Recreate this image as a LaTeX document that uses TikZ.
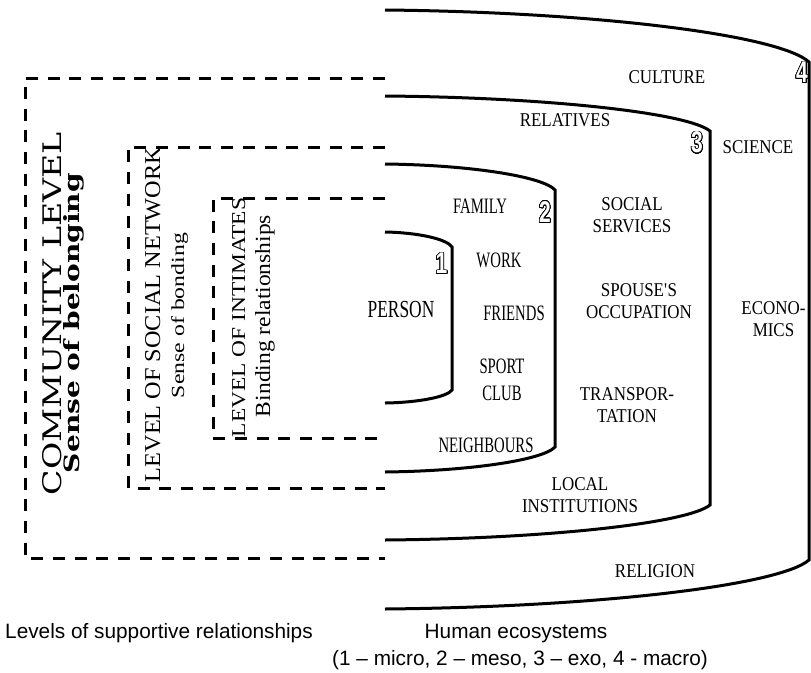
\documentclass[tikz,border=0pt]{standalone}
\usepackage{fontspec}
\usepackage[copies]{contour}
\setmainfont{Liberation Serif}
\newfontfamily\ringfont[FakeStretch=0.87]{Liberation Serif}
\newfontfamily\narrowfont[FakeStretch=0.67]{Liberation Serif}
\newfontfamily\personfont[FakeStretch=0.71]{Liberation Serif}
\newfontfamily\capsans{Liberation Sans}
\newfontfamily\digitfont[FakeStretch=0.7]{Liberation Sans}
\newfontfamily\wideserif{DejaVu Serif}
\contourlength{0.7pt}
\contournumber{32}
% hollow ring number
\newcommand{\ringdigit}[1]{{\digitfont\bfseries\fontsize{30}{30}\selectfont\color{white}\contour{black}{#1}}}
\begin{document}
\begin{tikzpicture}[x=1pt, y=-1pt,
  dashedframe/.style={line width=3pt, dash pattern=on 12pt off 9.7pt},
  ring/.style={line width=3pt},
  ringlabel/.style={font=\ringfont\fontsize{19.5}{22}\selectfont, align=center, inner sep=0pt},
  innerlabel/.style={font=\narrowfont\fontsize{22}{27}\selectfont, align=center, inner sep=0pt},
  levellabel/.style={rotate=90, anchor=base, inner sep=0pt},
  digit/.style={inner sep=0pt},
  caption/.style={font=\capsans\fontsize{20.8}{26}\selectfont, inner sep=0pt}]
\useasboundingbox (0,0) rectangle (811,672);

% levels of supportive relationships (dashed frames, open to the right)
\draw[dashedframe] (385,78) -- (25,78) -- (25,558) -- (385,558);
\draw[dashedframe] (385,147) -- (128,147) -- (128,488) -- (385,488);
\draw[dashedframe] (385,198) -- (213,198) -- (213,438) -- (385,438);

% human ecosystems (solid rings, open to the left)
\draw[ring] (385,10) .. controls (597,12.1) and (779.3,35) .. (809,62)
  -- (809,560) .. controls (779.3,585.5) and (597,607) .. (385,609);
\draw[ring] (385,96) .. controls (547.5,97.4) and (687.3,112.8) .. (710,131)
  -- (710,505) .. controls (687.3,523.2) and (547.5,538.6) .. (385,540);
\draw[ring] (385,164) .. controls (470,165) and (543.1,176.5) .. (555,190)
  -- (555,447) .. controls (543.1,460) and (470,471) .. (385,472);
\draw[ring] (385,232) .. controls (418.5,232.6) and (447.3,239.2) .. (452,247)
  -- (452,390) .. controls (447.3,396.8) and (418.5,402.5) .. (385,403);

% rotated level titles
\node[levellabel] (community) at (61,313.5)
  {\wideserif\resizebox{363pt}{19pt}{COMMUNITY LEVEL}};
\node[levellabel] (belonging) at (79,323)
  {\wideserif\bfseries\resizebox{300pt}{16pt}{Sense of belonging}};
\node[levellabel] (network) at (160,314.5)
  {\resizebox{335pt}{15pt}{LEVEL OF SOCIAL NETWORK}};
\node[levellabel] (bonding) at (184,315.5)
  {\resizebox{165pt}{13pt}{Sense of bonding}};
\node[levellabel] (intimates) at (245,317.5)
  {\resizebox{239pt}{13pt}{LEVEL OF INTIMATES}};
\node[levellabel] (binding) at (270,316)
  {\resizebox{202pt}{15pt}{Binding relationships}};

% ring numbers
\node[digit] (n1) at (441.5,264) {\ringdigit{1}};
\node[digit] (n2) at (545,212.5) {\ringdigit{2}};
\node[digit] (n3) at (697,143) {\ringdigit{3}};
\node[digit] (n4) at (802,73) {\ringdigit{4}};

% centre
\node[inner sep=0pt, font=\personfont\fontsize{24.5}{28}\selectfont] (person) at (401,310) {PERSON};

% microsystem
\node[innerlabel] (family) at (480,206.5) {FAMILY};
\node[innerlabel] (work) at (499,260.5) {WORK};
\node[innerlabel] (friends) at (514,313.5) {FRIENDS};
\node[innerlabel] (sport) at (502,380) {SPORT\\CLUB};
\node[innerlabel] (neighbours) at (486,445.5) {NEIGHBOURS};

% mesosystem
\node[ringlabel] (relatives) at (565,120) {RELATIVES};
\node[ringlabel] (services) at (632,215.5) {SOCIAL\\SERVICES};
\node[ringlabel] (spouse) at (639,301) {SPOUSE\textquotesingle S\\OCCUPATION};
\node[ringlabel] (transport) at (627,405) {TRANSPOR-\\TATION};
\node[ringlabel] (local) at (580,495.5) {LOCAL\\INSTITUTIONS};

% exo- and macrosystem
\node[ringlabel] (culture) at (667,77) {CULTURE};
\node[ringlabel] (science) at (758,147) {SCIENCE};
\node[ringlabel] (economics) at (773.5,319.5) {ECONO-\\MICS};
\node[ringlabel] (religion) at (655,571.5) {RELIGION};

% captions
\node[caption, anchor=base west] (levelscap) at (5,638) {Levels of supportive relationships};
\node[caption, anchor=base] (ecocap) at (516,638) {Human ecosystems};
\node[caption, anchor=base] (ecokey) at (520,665) {(1 – micro, 2 – meso, 3 – exo, 4 - macro)};
\end{tikzpicture}
\end{document}
